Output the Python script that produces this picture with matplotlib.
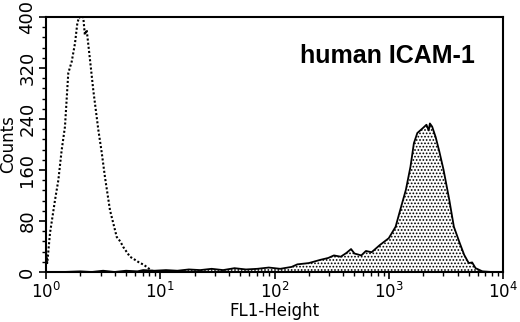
import numpy as np
import matplotlib
matplotlib.use("Agg")
import matplotlib.pyplot as plt
from matplotlib.ticker import FixedLocator, NullFormatter

# control (unstained) histogram: log10(FL1) and counts
control_log = [0.00, 0.011, 0.035, 0.079, 0.108, 0.137, 0.166, 0.195, 0.225, 0.254,
               0.274, 0.290, 0.305, 0.326, 0.340, 0.356, 0.385, 0.414, 0.458, 0.488,
               0.516, 0.560, 0.619, 0.650, 0.677, 0.735, 0.780, 0.823, 0.850, 0.881,
               0.925, 0.960]
control_counts = [30, 14, 61, 113, 144, 191, 228, 312, 330, 359,
                  390, 400, 398, 400, 372, 380, 333, 285, 223, 187,
                  149, 97, 55, 48, 39, 24, 19, 14, 12, 8,
                  2, 0]

# ICAM-1 stained histogram
icam_log = [0.00, 0.15, 0.30, 0.40, 0.50, 0.60, 0.70, 0.80, 0.85, 0.95,
            1.05, 1.15, 1.25, 1.35, 1.45, 1.55, 1.65, 1.75, 1.85, 1.95,
            2.05, 2.15, 2.20, 2.30, 2.40, 2.47, 2.52, 2.58, 2.63, 2.67,
            2.70, 2.76, 2.80, 2.85, 2.92, 3.00, 3.06, 3.10, 3.15, 3.19,
            3.22, 3.25, 3.30, 3.33, 3.35, 3.36, 3.38, 3.41, 3.44, 3.48,
            3.53, 3.57, 3.62, 3.66, 3.70, 3.73, 3.76, 3.82, 3.90, 4.00]
icam_counts = [0, 0, 1, 0, 2, 0, 2, 1, 3, 2,
               3, 2, 4, 3, 5, 3, 6, 4, 5, 7,
               5, 8, 12, 14, 19, 22, 26, 24, 30, 36,
               29, 26, 33, 31, 42, 53, 71, 97, 129, 165,
               202, 218, 226, 231, 222, 233, 228, 212, 191, 160,
               113, 71, 46, 27, 14, 15, 6, 1, 0, 0]

x_major = [1, 10, 100, 1000, 10000]
x_labels = [r"$10^{0}$", r"$10^{1}$", r"$10^{2}$", r"$10^{3}$", r"$10^{4}$"]
y_major = [0, 80, 160, 240, 320, 400]

plt.rcParams["font.family"] = ["DejaVu Sans"]
plt.rcParams["hatch.linewidth"] = 0.8
plt.rcParams["hatch.color"] = "black"

fig = plt.figure(figsize=(5.2, 3.22), dpi=100)
ax = fig.add_axes([46 / 520, 1 - 272 / 322, 457 / 520, 255 / 322])

icam_x = 10 ** np.array(icam_log)
control_x = 10 ** np.array(control_log)

# stained peak: stippled fill with solid outline
ax.fill_between(icam_x, icam_counts, 0, facecolor="white", edgecolor="black",
                hatch=".....", linewidth=0)
ax.plot(icam_x, icam_counts, color="black", lw=1.3)

# control peak: dotted outline
ax.plot(control_x, control_counts, color="black", lw=1.5, linestyle=(0, (1, 1)))

ax.set_xscale("log")
ax.set_xlim(1, 10000)
ax.set_ylim(0, 400)

ax.xaxis.set_major_locator(FixedLocator(x_major))
ax.set_xticklabels(x_labels, fontsize=12)
minor = [m * 10 ** d for d in range(4) for m in range(2, 10)]
ax.xaxis.set_minor_locator(FixedLocator(minor))
ax.xaxis.set_minor_formatter(NullFormatter())

ax.set_yticks(y_major)
ax.set_yticklabels([str(v) for v in y_major], rotation=90, va="center", fontsize=13)
ax.yaxis.set_minor_locator(FixedLocator(list(range(0, 401, 16))))

ax.tick_params(axis="both", which="major", direction="out", length=5, width=1.2, pad=2)
ax.tick_params(axis="both", which="minor", direction="out", length=3, width=1)

for s in ax.spines.values():
    s.set_linewidth(1.5)

ax.set_xlabel("FL1-Height", fontsize=12, labelpad=0)
ax.set_ylabel("Counts", fontsize=12, labelpad=1)

ax.text(0.556, 0.82, "human ICAM-1", transform=ax.transAxes, ha="left",
        va="baseline", fontsize=18, fontweight="bold", family="Liberation Sans")

fig.savefig("out.png", dpi=100)
